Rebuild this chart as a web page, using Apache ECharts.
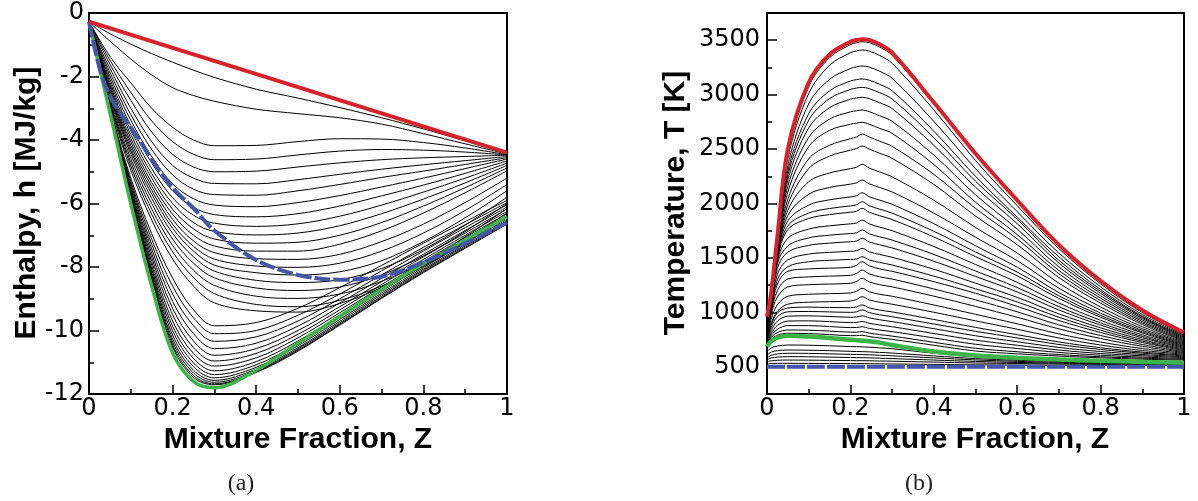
<!DOCTYPE html>
<html><head><meta charset="utf-8">
<script src="https://cdn.jsdelivr.net/npm/echarts@6/dist/echarts.min.js"></script>
<style>html,body{margin:0;padding:0;background:#fff}#c{width:1198px;height:501px}</style>
</head><body><div id="c"></div>
<script>
// ---------- Panel (a): enthalpy vs mixture fraction ----------
const zH = [0, 0.03, 0.06, 0.1, 0.15, 0.2, 0.25, 0.3, 0.4, 0.5, 0.6, 0.7, 0.8, 0.9, 1];
const zRedH = [0, 1];
const hRed = [-0.27, -4.4];
const hBlue = [-0.27, -1.95, -2.85, -3.6, -4.6, -5.5, -6.15, -6.85, -7.78, -8.25, -8.4, -8.3, -7.85, -7.25, -6.6];
const hGreen = [-0.27, -2.0, -3.7, -6.0, -8.6, -10.7, -11.6, -11.8, -11.25, -10.4, -9.55, -8.7, -7.9, -7.15, -6.42];
const hBlack = [
  [-0.27, -0.5, -0.72, -0.98, -1.28, -1.55, -1.8, -2.03, -2.4, -2.68, -2.98, -3.3, -3.65, -4.03, -4.42],
  [-0.27, -0.65, -1.0, -1.45, -1.95, -2.35, -2.6, -2.78, -3.03, -3.17, -3.3, -3.5, -3.8, -4.12, -4.44],
  [-0.27, -0.95, -1.55, -2.2, -3.0, -3.6, -4.0, -4.18, -4.17, -4.05, -3.96, -3.97, -4.08, -4.25, -4.46],
  [-0.27, -1.02, -1.7, -2.5, -3.4, -4.05, -4.45, -4.62, -4.6, -4.47, -4.35, -4.3, -4.32, -4.38, -4.47],
  [-0.27, -1.1, -1.85, -2.75, -3.75, -4.45, -4.85, -5.0, -4.98, -4.85, -4.72, -4.62, -4.56, -4.52, -4.48],
  [-0.27, -1.2, -2.0, -3.0, -4.05, -4.8, -5.2, -5.37, -5.38, -5.25, -5.08, -4.92, -4.78, -4.65, -4.52],
  [-0.27, -1.28, -2.15, -3.2, -4.3, -5.1, -5.55, -5.72, -5.74, -5.6, -5.4, -5.18, -4.98, -4.77, -4.56],
  [-0.27, -1.35, -2.28, -3.38, -4.52, -5.38, -5.85, -6.05, -6.1, -5.97, -5.75, -5.48, -5.2, -4.9, -4.6],
  [-0.27, -1.42, -2.4, -3.55, -4.72, -5.6, -6.12, -6.35, -6.42, -6.32, -6.08, -5.76, -5.42, -5.05, -4.66],
  [-0.27, -1.48, -2.5, -3.7, -4.9, -5.82, -6.37, -6.62, -6.72, -6.64, -6.4, -6.05, -5.64, -5.2, -4.73],
  [-0.27, -1.53, -2.6, -3.83, -5.06, -6.0, -6.6, -6.88, -6.99, -6.93, -6.7, -6.32, -5.86, -5.35, -4.8],
  [-0.27, -1.58, -2.68, -3.95, -5.2, -6.18, -6.8, -7.12, -7.25, -7.22, -7.0, -6.6, -6.08, -5.5, -4.88],
  [-0.27, -1.62, -2.76, -4.06, -5.34, -6.34, -7.0, -7.34, -7.5, -7.5, -7.28, -6.86, -6.3, -5.66, -4.97],
  [-0.27, -1.66, -2.83, -4.16, -5.46, -6.5, -7.18, -7.55, -7.74, -7.76, -7.6, -7.2, -6.65, -5.97, -5.2],
  [-0.27, -1.7, -2.9, -4.26, -5.58, -6.65, -7.35, -7.75, -7.97, -8.01, -7.88, -7.5, -6.93, -6.22, -5.4],
  [-0.27, -1.74, -2.96, -4.35, -5.7, -6.78, -7.5, -7.94, -8.18, -8.25, -8.15, -7.8, -7.2, -6.45, -5.6],
  [-0.27, -1.78, -3.03, -4.45, -5.84, -6.94, -7.68, -8.13, -8.42, -8.49, -8.4, -8.05, -7.45, -6.68, -5.8],
  [-0.27, -1.83, -3.12, -4.58, -6.0, -7.12, -7.88, -8.34, -8.66, -8.74, -8.63, -8.25, -7.65, -6.88, -6.0],
  [-0.27, -1.87, -3.2, -4.7, -6.17, -7.32, -8.1, -8.58, -8.92, -8.99, -8.85, -8.45, -7.85, -7.05, -6.15],
  [-0.27, -1.9, -3.27, -4.82, -6.34, -7.52, -8.33, -8.84, -9.18, -9.25, -9.05, -8.6, -7.95, -7.15, -6.3],
  [-0.27, -1.93, -3.34, -4.95, -6.52, -7.75, -8.6, -9.13, -9.38, -9.42, -9.15, -8.65, -7.98, -7.22, -6.45],
  [-0.27, -1.95, -3.45, -5.2, -6.95, -8.35, -9.35, -9.85, -9.75, -9.3, -8.65, -7.95, -7.25, -6.57, -5.9],
  [-0.27, -1.97, -3.5, -5.3, -7.12, -8.6, -9.6, -10.1, -10.0, -9.52, -8.85, -8.12, -7.38, -6.67, -5.97],
  [-0.27, -1.98, -3.54, -5.38, -7.28, -8.85, -9.85, -10.34, -10.2, -9.7, -9.0, -8.25, -7.5, -6.76, -6.04],
  [-0.27, -1.99, -3.57, -5.46, -7.43, -9.08, -10.1, -10.57, -10.4, -9.86, -9.13, -8.36, -7.6, -6.85, -6.11],
  [-0.27, -2.0, -3.6, -5.53, -7.57, -9.3, -10.33, -10.78, -10.57, -10.0, -9.25, -8.46, -7.68, -6.93, -6.18],
  [-0.27, -2.0, -3.62, -5.6, -7.7, -9.5, -10.54, -10.96, -10.72, -10.12, -9.35, -8.55, -7.76, -7.0, -6.25],
  [-0.27, -2.0, -3.63, -5.65, -7.83, -9.7, -10.72, -11.12, -10.86, -10.23, -9.44, -8.63, -7.83, -7.07, -6.32],
  [-0.27, -2.0, -3.64, -5.7, -7.95, -9.86, -10.88, -11.27, -10.98, -10.33, -9.52, -8.7, -7.9, -7.13, -6.38],
  [-0.27, -2.0, -3.64, -5.74, -8.06, -10.0, -11.02, -11.39, -11.08, -10.41, -9.59, -8.76, -7.96, -7.19, -6.44],
  [-0.27, -1.99, -3.64, -5.76, -8.15, -10.14, -11.14, -11.49, -11.16, -10.48, -9.65, -8.82, -8.02, -7.25, -6.5],
  [-0.27, -1.99, -3.63, -5.78, -8.23, -10.26, -11.25, -11.57, -11.22, -10.54, -9.71, -8.87, -8.07, -7.3, -6.55],
  [-0.27, -1.98, -3.62, -5.79, -8.3, -10.36, -11.34, -11.63, -11.27, -10.58, -9.76, -8.92, -8.11, -7.34, -6.59],
  [-0.27, -1.97, -3.61, -5.8, -8.36, -10.45, -11.42, -11.68, -11.3, -10.62, -9.8, -8.96, -8.15, -7.38, -6.62],
  [-0.27, -1.96, -3.6, -5.8, -8.4, -10.52, -11.48, -11.71, -11.32, -10.65, -9.83, -8.99, -8.18, -7.41, -6.65]
];

// ---------- Panel (b): temperature vs mixture fraction ----------
const zT = [0, 0.01, 0.025, 0.05, 0.1, 0.15, 0.2, 0.215, 0.228, 0.245, 0.27, 0.3, 0.4, 0.5, 0.6, 0.7, 0.8, 0.9, 1];
const tRed = [960, 1180, 1700, 2500, 3110, 3370, 3485, 3502, 3510, 3503, 3462, 3385, 2930, 2460, 2030, 1620, 1290, 1020, 815];
const tGreen = [685, 735, 768, 785, 778, 765, 748, 744, 740, 734, 722, 700, 640, 603, 583, 567, 555, 545, 537];
const zBlueT = [0, 1];
const tBlue = [500, 500];
const tBlack = [
  [950, 1170, 1660, 2465, 3075, 3340, 3460, 3478, 3486, 3478, 3438, 3362, 2915, 2445, 2020, 1610, 1282, 1012, 805],
  [945, 1165, 1640, 2415, 3010, 3270, 3385, 3402, 3410, 3400, 3360, 3288, 2860, 2395, 1980, 1585, 1262, 998, 797],
  [940, 1160, 1620, 2350, 2915, 3140, 3240, 3256, 3263, 3253, 3215, 3150, 2755, 2320, 1925, 1545, 1235, 980, 789],
  [935, 1155, 1605, 2300, 2825, 3035, 3125, 3138, 3144, 3133, 3095, 3036, 2665, 2250, 1875, 1510, 1210, 965, 781],
  [930, 1150, 1595, 2260, 2765, 2963, 3048, 3061, 3067, 3055, 3018, 2960, 2605, 2205, 1855, 1478, 1193, 955, 773],
  [925, 1145, 1585, 2215, 2695, 2880, 2958, 2970, 2976, 2963, 2926, 2872, 2535, 2150, 1815, 1452, 1175, 944, 766],
  [920, 1140, 1575, 2160, 2608, 2775, 2842, 2852, 2859, 2844, 2806, 2755, 2445, 2080, 1765, 1418, 1152, 930, 758],
  [915, 1135, 1565, 2105, 2522, 2672, 2728, 2738, 2746, 2728, 2690, 2645, 2358, 2012, 1715, 1385, 1130, 916, 750],
  [910, 1130, 1555, 2040, 2410, 2535, 2595, 2612, 2638, 2612, 2572, 2525, 2268, 1955, 1675, 1355, 1108, 902, 742],
  [900, 1120, 1545, 1990, 2320, 2435, 2490, 2506, 2528, 2500, 2462, 2415, 2175, 1885, 1622, 1320, 1085, 888, 734],
  [890, 1110, 1535, 1940, 2200, 2280, 2320, 2334, 2360, 2326, 2290, 2245, 2030, 1780, 1545, 1268, 1050, 868, 726],
  [880, 1100, 1525, 1890, 2085, 2147, 2178, 2190, 2216, 2181, 2147, 2106, 1912, 1690, 1475, 1222, 1020, 850, 718],
  [870, 1090, 1515, 1840, 1985, 2034, 2060, 2071, 2099, 2063, 2031, 1993, 1815, 1612, 1415, 1182, 993, 835, 710],
  [860, 1080, 1500, 1795, 1912, 1954, 1978, 1988, 2016, 1980, 1948, 1912, 1745, 1555, 1370, 1152, 972, 822, 702],
  [850, 1070, 1490, 1760, 1862, 1898, 1920, 1929, 1956, 1920, 1888, 1853, 1693, 1512, 1335, 1128, 955, 811, 694],
  [840, 1060, 1470, 1680, 1765, 1795, 1813, 1821, 1848, 1813, 1783, 1750, 1605, 1440, 1276, 1086, 927, 794, 687],
  [830, 1050, 1445, 1610, 1684, 1709, 1724, 1731, 1757, 1722, 1694, 1664, 1532, 1380, 1228, 1052, 903, 779, 679],
  [820, 1040, 1405, 1553, 1615, 1636, 1649, 1655, 1680, 1647, 1620, 1592, 1470, 1330, 1188, 1022, 883, 766, 671],
  [810, 1030, 1350, 1482, 1535, 1551, 1561, 1566, 1588, 1557, 1532, 1506, 1396, 1268, 1138, 986, 858, 750, 663],
  [800, 1020, 1300, 1420, 1465, 1478, 1486, 1490, 1511, 1482, 1459, 1435, 1333, 1216, 1096, 955, 836, 736, 655],
  [790, 1010, 1260, 1377, 1399, 1406, 1414, 1433, 1465, 1428, 1399, 1377, 1282, 1175, 1055, 925, 815, 723, 647],
  [780, 1000, 1201, 1306, 1326, 1333, 1340, 1358, 1389, 1354, 1326, 1306, 1215, 1115, 1005, 885, 787, 705, 639],
  [770, 979, 1141, 1234, 1254, 1260, 1267, 1284, 1313, 1280, 1254, 1234, 1149, 1055, 955, 848, 760, 688, 631],
  [760, 935, 1070, 1148, 1166, 1172, 1178, 1194, 1221, 1190, 1166, 1148, 1068, 982, 895, 802, 727, 668, 624],
  [750, 896, 1010, 1075, 1093, 1098, 1104, 1119, 1144, 1115, 1093, 1075, 1001, 922, 845, 765, 700, 650, 616],
  [740, 885, 995, 1040, 1048, 1045, 1043, 1050, 1068, 1042, 1021, 1004, 935, 862, 795, 728, 675, 635, 608],
  [730, 860, 960, 1005, 1008, 1004, 1000, 1005, 1022, 998, 978, 960, 893, 826, 765, 705, 659, 625, 600],
  [720, 830, 920, 965, 968, 962, 955, 958, 968, 950, 932, 915, 850, 785, 730, 678, 640, 613, 592],
  [712, 805, 880, 920, 922, 915, 906, 908, 916, 900, 884, 868, 806, 745, 698, 654, 622, 601, 584],
  [705, 785, 845, 878, 878, 870, 860, 861, 868, 853, 838, 823, 765, 707, 668, 632, 606, 589, 576],
  [698, 768, 815, 838, 836, 828, 818, 818, 823, 810, 796, 782, 725, 670, 638, 612, 592, 579, 568],
  [692, 752, 790, 808, 805, 796, 786, 786, 790, 778, 765, 752, 698, 645, 619, 598, 582, 570, 561],
  [640, 672, 690, 700, 698, 693, 686, 684, 683, 680, 674, 666, 625, 590, 570, 556, 546, 538, 532],
  [610, 635, 648, 654, 652, 648, 642, 640, 639, 637, 632, 626, 600, 575, 560, 549, 540, 533, 528],
  [585, 605, 618, 624, 623, 619, 614, 613, 612, 610, 606, 601, 582, 563, 550, 541, 534, 528, 524],
  [565, 580, 589, 593, 592, 589, 585, 584, 584, 582, 579, 575, 562, 549, 540, 533, 528, 523, 520],
  [545, 555, 560, 562, 561, 559, 557, 556, 556, 555, 553, 551, 543, 535, 530, 525, 521, 518, 516],
  [525, 530, 532, 532, 531, 530, 529, 529, 529, 528, 527, 526, 522, 518, 516, 514, 512, 511, 510]
];

const tMajor = [500, 1000, 1500, 2000, 2500, 3000, 3500];
const tMinor = [750, 1250, 1750, 2250, 2750, 3250];

// ---------- build chart ----------
const pairs = (xs, ys) => xs.map((x, i) => [x, ys[i]]);
const RED = '#d7222b', BLUE = '#4357a8', GREEN = '#3db34a';
const series = [];
function line(xi, yi, xs, ys, color, width, z, type) {
  series.push({
    type: 'line', xAxisIndex: xi, yAxisIndex: yi, data: pairs(xs, ys),
    smooth: 0.35, showSymbol: false, symbol: 'none', silent: true, z: z,
    lineStyle: { color: color, width: width, type: type || 'solid' }
  });
}
hBlack.forEach(a => line(0, 0, zH, a, '#000', 1, 2));
line(0, 0, zH, hGreen, GREEN, 3.5, 3);
line(0, 0, zH, hBlue, BLUE, 4, 4, [16, 3]);
line(0, 0, zRedH, hRed, RED, 4, 5);
tBlack.forEach(a => line(1, 1, zT, a, '#000', 1, 2));
line(1, 1, zT, tGreen, GREEN, 4.5, 3);
line(1, 1, zBlueT, tBlue, BLUE, 4, 4, [18, 2]);
line(1, 1, zT, tRed, RED, 4, 5);

const tickStyle = { color: '#000', width: 1.5 };
const labelStyle = { color: '#000', fontSize: 24, fontFamily: '"DejaVu Sans", sans-serif' };
function xAxis(g) {
  return {
    gridIndex: g, type: 'value', min: 0, max: 1, interval: 0.2,
    axisLine: { show: true, onZero: false, lineStyle: { color: '#000', width: 2 } },
    axisTick: { show: true, inside: true, length: 9, lineStyle: tickStyle },
    minorTick: { show: true, splitNumber: 2, length: 5, lineStyle: tickStyle },
    axisLabel: Object.assign({ margin: 3, formatter: v => String(Math.round(v * 10) / 10) }, labelStyle),
    splitLine: { show: false }, minorSplitLine: { show: false }
  };
}
const titleFont = 'bold 30px "Liberation Sans", Arial, sans-serif';
const option = {
  animation: false,
  backgroundColor: '#fff',
  grid: [
    { left: 89, top: 13, width: 418, height: 381, show: true, borderColor: '#000', borderWidth: 2, backgroundColor: 'transparent' },
    { left: 767, top: 13, width: 417, height: 381, show: true, borderColor: '#000', borderWidth: 2, backgroundColor: 'transparent' }
  ],
  xAxis: [xAxis(0), xAxis(1)],
  yAxis: [
    {
      gridIndex: 0, type: 'value', min: -12, max: 0, interval: 2,
      axisLine: { show: true, onZero: false, lineStyle: { color: '#000', width: 2 } },
      axisTick: { show: true, inside: true, length: 10, lineStyle: tickStyle },
      minorTick: { show: true, splitNumber: 2, length: 5, lineStyle: tickStyle },
      axisLabel: Object.assign({ margin: 5, formatter: v => String(v) }, labelStyle),
      splitLine: { show: false }, minorSplitLine: { show: false }
    },
    {
      gridIndex: 1, type: 'value', min: 250, max: 3750, position: 'left',
      axisLine: { show: true, onZero: false, lineStyle: { color: '#000', width: 2 } },
      axisTick: { show: true, inside: true, length: 10, lineStyle: tickStyle, customValues: tMajor },
      axisLabel: Object.assign({ margin: 7, customValues: tMajor, formatter: v => String(v) }, labelStyle),
      splitLine: { show: false }
    },
    {
      gridIndex: 1, type: 'value', min: 250, max: 3750, position: 'left', offset: 0,
      axisLine: { show: false },
      axisTick: { show: true, inside: true, length: 5, lineStyle: tickStyle, customValues: tMinor },
      axisLabel: { show: false },
      splitLine: { show: false }
    }
  ],
  graphic: [
    { type: 'text', x: 27, y: 203, rotation: Math.PI / 2, z: 10,
      style: { text: 'Enthalpy, h [MJ/kg]', fill: '#000', font: titleFont, align: 'center', verticalAlign: 'middle' } },
    { type: 'text', x: 676, y: 203, rotation: Math.PI / 2, z: 10,
      style: { text: 'Temperature, T [K]', fill: '#000', font: titleFont, align: 'center', verticalAlign: 'middle' } },
    { type: 'text', x: 298, y: 440, z: 10,
      style: { text: 'Mixture Fraction, Z', fill: '#000', font: titleFont, align: 'center', verticalAlign: 'middle' } },
    { type: 'text', x: 975, y: 440, z: 10,
      style: { text: 'Mixture Fraction, Z', fill: '#000', font: titleFont, align: 'center', verticalAlign: 'middle' } },
    { type: 'text', x: 241, y: 484, z: 10,
      style: { text: '(a)', fill: '#222', font: '24px "Liberation Serif", "DejaVu Serif", serif', align: 'center', verticalAlign: 'middle' } },
    { type: 'text', x: 919, y: 484, z: 10,
      style: { text: '(b)', fill: '#222', font: '24px "Liberation Serif", "DejaVu Serif", serif', align: 'center', verticalAlign: 'middle' } }
  ],
  series: series
};
const chart = echarts.init(document.getElementById('c'), null, { renderer: 'canvas' });
chart.setOption(option);
</script></body></html>
